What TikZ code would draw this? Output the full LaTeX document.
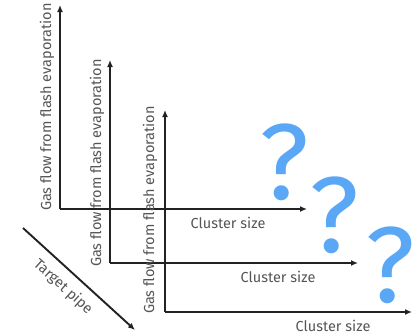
\documentclass[tikz,border=0pt]{standalone}
\usepackage{fontspec}
\setmainfont{Fira Sans}
\usetikzlibrary{arrows.meta}
\definecolor{axisink}{HTML}{222222}
\definecolor{labelink}{HTML}{555555}
\definecolor{qblue}{HTML}{5AA8F5}
\begin{document}
\begin{tikzpicture}[x=1pt,y=-1pt,
  axis/.style={draw=axisink,line width=1.7pt,-{Latex[length=7pt,width=6pt]}},
  axlabel/.style={text=labelink,font=\fontsize{14.5}{16}\selectfont,inner sep=0pt},
  qmark/.style={text=qblue,font=\fontsize{108}{110}\selectfont,inner sep=0pt}]
\useasboundingbox (0,0) rectangle (417,335);
% three stacked plots, each shifted down and right
\foreach \i/\ox/\oy/\ty/\tx in {1/60/209/5/307, 2/110/263/60/358, 3/165/312/110/412} {
  \coordinate (o\i) at (\ox,\oy);
  \coordinate (ytop\i) at (\ox,\ty);
  \coordinate (xend\i) at (\tx,\oy);
  \draw[axis] (o\i) -- (ytop\i);
  \draw[axis] (o\i) -- (xend\i);
}
% axis titles
\node[axlabel,rotate=90] (yl1) at (47,107) {Gas flow from flash evaporation};
\node[axlabel,rotate=90] (yl2) at (97,163) {Gas flow from flash evaporation};
\node[axlabel,rotate=90] (yl3) at (150,210) {Gas flow from flash evaporation};
\node[axlabel] (xl1) at (228,223) {Cluster size};
\node[axlabel] (xl2) at (278,277) {Cluster size};
\node[axlabel] (xl3) at (333,326) {Cluster size};
% question marks
\node[qmark] (q1) at (284,162) {?};
\node[qmark] (q2) at (334,215) {?};
\node[qmark] (q3) at (390,265) {?};
% direction along the target pipe
\coordinate (ps) at (23,228);
\coordinate (pe) at (135,330);
\draw[axis,line width=1.9pt] (ps) -- (pe);
\node[axlabel,rotate=-42] (pl) at (63,287) {Target pipe};
\end{tikzpicture}
\end{document}
